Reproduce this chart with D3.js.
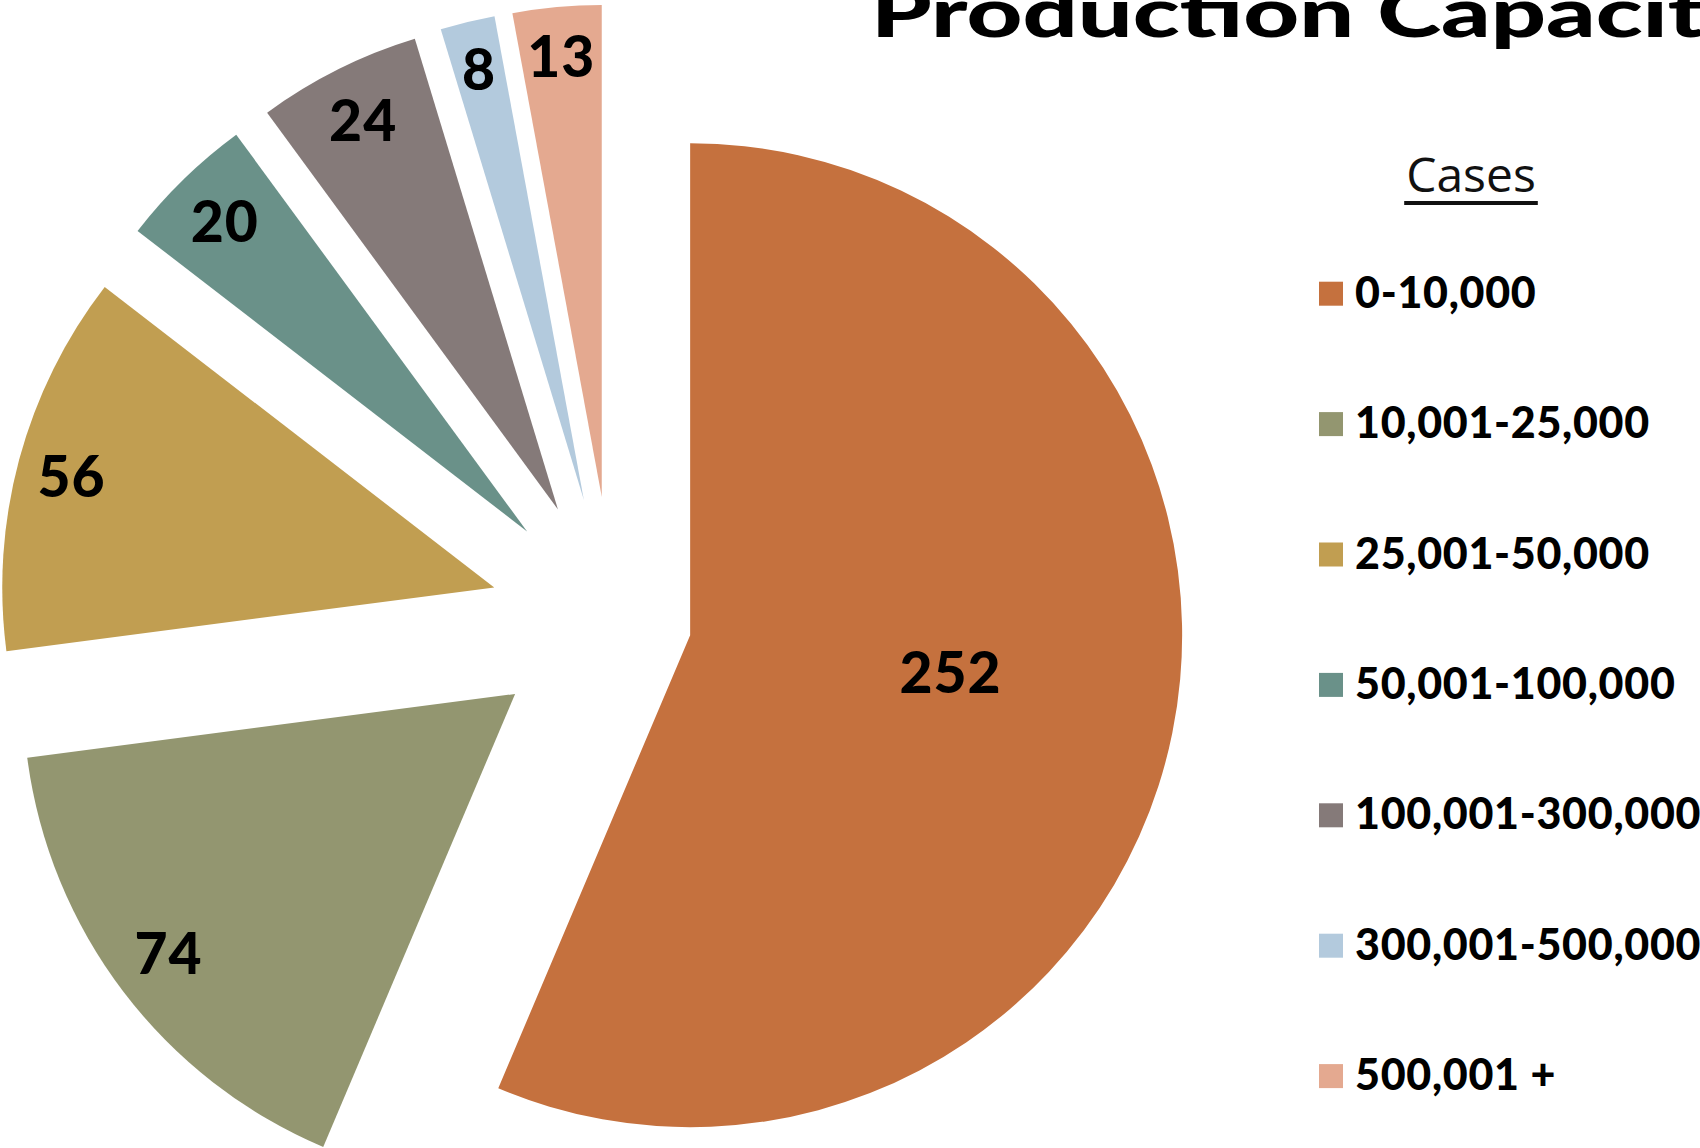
<!DOCTYPE html>
<html>
<head>
<meta charset="utf-8">
<script src="https://cdn.jsdelivr.net/npm/d3@7"></script>
<style>
  html, body { margin: 0; padding: 0; background: #ffffff; }
  svg { display: block; }
</style>
</head>
<body>
<svg id="chart" width="1700" height="1148"></svg>
<script>
// ---- data ----
const categories = ["0-10,000", "10,001-25,000", "25,001-50,000", "50,001-100,000", "100,001-300,000", "300,001-500,000", "500,001 +"];
const values = [252, 74, 56, 20, 24, 8, 13];
const colors = ["#C5713E", "#939670", "#C19E51", "#6A9189", "#857A79", "#B3CADD", "#E4A990"];
const titleText = "Production Capacity";
const legendTitle = "Cases";

// ---- layout ----
const W = 1700, H = 1148;
const cx = 613, cy = 619.5, R = 492;
const explodeFrac = [0.16, 0.25, 0.25, 0.25, 0.25, 0.25, 0.25];
const labelFrac = [0.54, 0.885, 0.89, 0.88, 0.885, 0.9, 0.9];
const labelShiftY = [-16, -4, 3, 0, 0, 0, 0];

const svg = d3.select("#chart");
svg.append("rect").attr("width", W).attr("height", H).attr("fill", "#ffffff");

const pie = d3.pie().sort(null).value(d => d)(values);
const arc = d3.arc().innerRadius(0).outerRadius(R);

const g = svg.append("g").attr("transform", `translate(${cx},${cy})`);

const slices = g.selectAll("g.slice").data(pie).enter().append("g")
  .attr("class", "slice")
  .attr("transform", (d, i) => {
    const a = (d.startAngle + d.endAngle) / 2;
    const e = explodeFrac[i] * R;
    return `translate(${e * Math.sin(a)},${-e * Math.cos(a)})`;
  });

slices.append("path")
  .attr("d", arc)
  .attr("fill", (d, i) => colors[i]);

slices.append("text")
  .attr("transform", (d, i) => {
    const lr = labelFrac[i] * R;
    const c = d3.arc().innerRadius(lr).outerRadius(lr).centroid(d);
    return `translate(${c[0]},${c[1] + labelShiftY[i]})`;
  })
  .attr("text-anchor", "middle")
  .attr("dy", "0.36em")
  .attr("font-family", "Lato, 'DejaVu Sans', sans-serif")
  .attr("font-weight", 900)
  .attr("font-size", 57)
  .attr("letter-spacing", 1)
  .attr("fill", "#000")
  .text(d => d.data);

// ---- title ----
svg.append("text")
  .attr("x", 871)
  .attr("y", 37)
  .attr("font-family", "Lato, 'DejaVu Sans', sans-serif")
  .attr("font-weight", 900)
  .attr("font-size", 68)
  .attr("textLength", 885)
  .attr("lengthAdjust", "spacingAndGlyphs")
  .attr("fill", "#000")
  .text(titleText);

// ---- legend ----
const legX = 1319, legY0 = 293.7, legStep = 130.4, sw = 24;

const lt = svg.append("text")
  .attr("x", 1471)
  .attr("y", 192)
  .attr("text-anchor", "middle")
  .attr("font-family", "'Open Sans', sans-serif")
  .attr("font-weight", 400)
  .attr("font-size", 48)
  .attr("fill", "#111")
  .text(legendTitle);
const bb = lt.node().getBBox();
svg.append("rect")
  .attr("x", bb.x - 2)
  .attr("y", 201)
  .attr("width", bb.width + 4)
  .attr("height", 4)
  .attr("fill", "#111");

const leg = svg.selectAll("g.leg").data(categories).enter().append("g")
  .attr("class", "leg")
  .attr("transform", (d, i) => `translate(${legX},${legY0 + i * legStep})`);

leg.append("rect")
  .attr("x", 0).attr("y", -sw / 2)
  .attr("width", sw).attr("height", sw)
  .attr("fill", (d, i) => colors[i]);

leg.append("text")
  .attr("x", 36)
  .attr("y", 14)
  .attr("font-family", "Lato, 'DejaVu Sans', sans-serif")
  .attr("font-weight", 900)
  .attr("font-size", 43)
  .attr("letter-spacing", 0.7)
  .attr("fill", "#000")
  .text(d => d);
</script>
</body>
</html>
